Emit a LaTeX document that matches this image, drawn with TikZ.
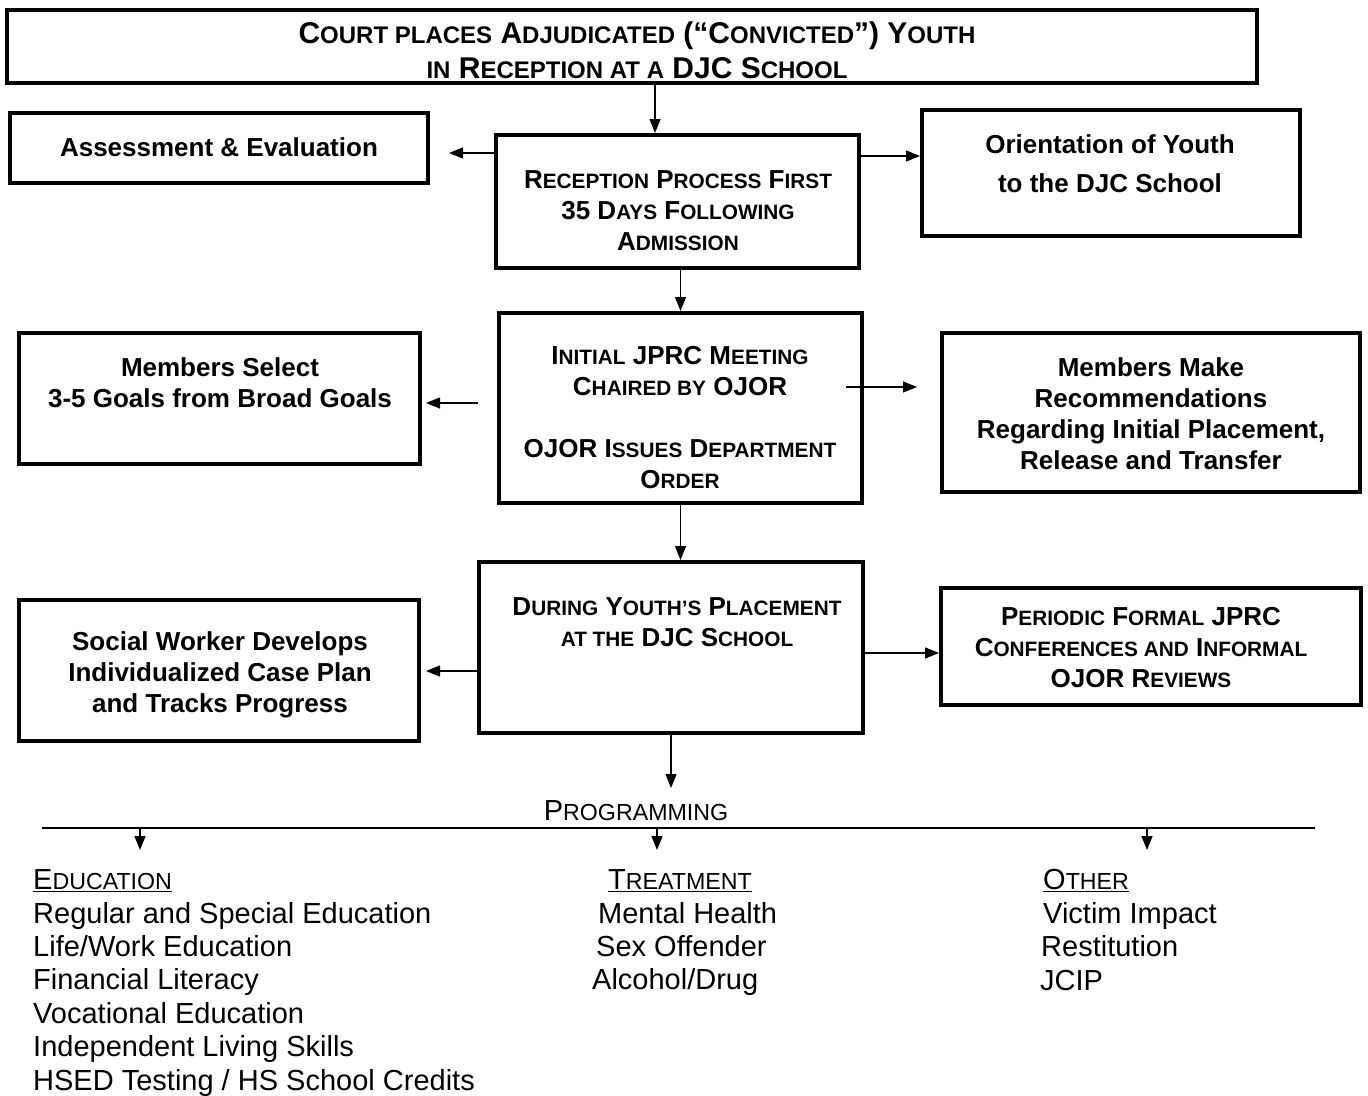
\documentclass[tikz,border=0pt]{standalone}
\usepackage{fontspec}
\setmainfont{Liberation Sans}
\usetikzlibrary{arrows.meta,fit,positioning}
\newcommand\smc[1]{{\fontsize{20.8pt}{20pt}\selectfont #1}}
\newcommand\smt[1]{{\fontsize{24pt}{24pt}\selectfont #1}}
\newcommand\smr[1]{{\fontsize{23.2pt}{23pt}\selectfont #1}}
\newcommand\ul[1]{\underline{#1}}
\begin{document}
\begin{tikzpicture}[x=1pt,y=-1pt,
  box/.style={draw=black,line width=4pt,inner sep=0pt,rectangle},
  btxt/.style={font=\fontsize{26pt}{31pt}\selectfont\bfseries,align=center,inner sep=0pt},
  ltxt/.style={font=\fontsize{29pt}{33.4pt}\selectfont,align=left,inner sep=0pt,anchor=north west},
  arr/.style={line width=1.3pt,-{Triangle[length=14pt,width=11pt]}},
  hline/.style={line width=1.8pt}]
\useasboundingbox (0,0) rectangle (1368,1095);
% boxes
\node[box,fit={(7,10) (1257,83)}] (top) {};
\node[box,fit={(10,113) (428,183)}] (assess) {};
\node[box,fit={(496,135) (859,268)}] (rec) {};
\node[box,fit={(922,110) (1300,236)}] (orient) {};
\node[box,fit={(19,333) (420,464)}] (sel) {};
\node[box,fit={(499,313) (862,503)}] (jprc) {};
\node[box,fit={(942,333) (1360,492)}] (make) {};
\node[box,fit={(19,600) (419,741)}] (sw) {};
\node[box,fit={(479,562) (863,733)}] (during) {};
\node[box,fit={(941,588) (1361,705)}] (per) {};
% box texts
\node[btxt,font=\fontsize{30pt}{35pt}\selectfont\bfseries] (toptxt) at (637,50)
  {C\smt{OURT PLACES} A\smt{DJUDICATED} (“C\smt{ONVICTED}”) Y\smt{OUTH}\\ \smt{IN} R\smt{ECEPTION AT A} DJC S\smt{CHOOL}};
\node[btxt] (assesstxt) at (219,147) {Assessment \& Evaluation};
\node[btxt] (rectxt) at (678,211) {R\smc{ECEPTION} P\smc{ROCESS} F\smc{IRST}\\35 D\smc{AYS} F\smc{OLLOWING}\\A\smc{DMISSION}};
\node[btxt] (orienttxt) at (1110,164) {Orientation of Youth\\[8pt]to the DJC School};
\node[btxt] (seltxt) at (220,383) {Members Select\\3-5 Goals from Broad Goals};
\node[btxt] (jprctxt) at (680,418) {I\smc{NITIAL} JPRC M\smc{EETING}\\C\smc{HAIRED BY} OJOR\\[31pt]OJOR I\smc{SSUES} D\smc{EPARTMENT}\\O\smc{RDER}};
\node[btxt] (maketxt) at (1151,414) {Members Make\\Recommendations\\Regarding Initial Placement,\\Release and Transfer};
\node[btxt] (duringtxt) at (677,622) {D\smc{URING} Y\smc{OUTH’S} P\smc{LACEMENT}\\\smc{AT THE} DJC S\smc{CHOOL}};
\node[btxt] (swtxt) at (220,675) {Social Worker Develops\\Individualized Case Plan\\and Tracks Progress};
\node[btxt] (pertxt) at (1141,648) {P\smc{ERIODIC} F\smc{ORMAL} JPRC\\C\smc{ONFERENCES AND} I\smc{NFORMAL}\\OJOR R\smc{EVIEWS}};
% programming
\node[font=\fontsize{29pt}{33pt}\selectfont,inner sep=0pt] (prog) at (636,811) {P\smr{ROGRAMMING}};
\node[ltxt] (edu) at (33,869.5) {\ul{E\smr{DUCATION}}\\Regular and Special Education\\Life/Work Education\\Financial Literacy\\Vocational Education\\Independent Living Skills\\HSED Testing / HS School Credits};
\node[ltxt] (treat) at (592,869.5) {\hspace*{16pt}\ul{T\smr{REATMENT}}\\\hspace*{6pt}Mental Health\\\hspace*{4pt}Sex Offender\\Alcohol/Drug};
\node[ltxt] (other) at (1040,869.5) {\hspace*{3pt}\ul{O\smr{THER}}\\\hspace*{3pt}Victim Impact\\\hspace*{1pt}Restitution\\JCIP};
% connector coordinates
\coordinate (r1) at ([yshift=-20pt]rec.north west);
\coordinate (r2) at ([yshift=-23pt]rec.north east);
\coordinate (j1) at ([xshift=-19pt,yshift=-92pt]jprc.north west);
\coordinate (j2) at ([xshift=-18pt,yshift=-76pt]jprc.north east);
\coordinate (d1) at ([yshift=-111pt]during.north west);
\coordinate (d2) at ([yshift=-93pt]during.north east);
\coordinate (progend) at (671,788);
\coordinate (hl) at (42,828);
\coordinate (hr) at (1315,828);
\coordinate (ea) at (140,828);
\coordinate (eb) at (140,850);
\coordinate (ta) at (657,828);
\coordinate (tb) at (657,850);
\coordinate (oa) at (1147,828);
\coordinate (ob) at (1147,850);
% connectors
\draw[arr] ([xshift=-22.5pt]rec.north |- top.south) -- ([xshift=-22.5pt]rec.north);
\draw[arr,shorten >=19pt] (r1) -- (r1 -| assess.east);
\draw[arr] (r2) -- (r2 -| orient.west);
\draw[arr] (jprc.north |- rec.south) -- (jprc.north);
\draw[arr,shorten >=4pt] (j1) -- (j1 -| sel.east);
\draw[arr,shorten >=23pt] (j2) -- (j2 -| make.west);
\draw[arr] (jprc.south) -- (jprc.south |- during.north);
\draw[arr,shorten >=5pt] (d1) -- (d1 -| sw.east);
\draw[arr] (d2) -- (d2 -| per.west);
\draw[arr] (during.south) -- (progend);
\draw[hline] (hl) -- (hr);
\draw[arr] (ea) -- (eb);
\draw[arr] (ta) -- (tb);
\draw[arr] (oa) -- (ob);
\end{tikzpicture}
\end{document}
